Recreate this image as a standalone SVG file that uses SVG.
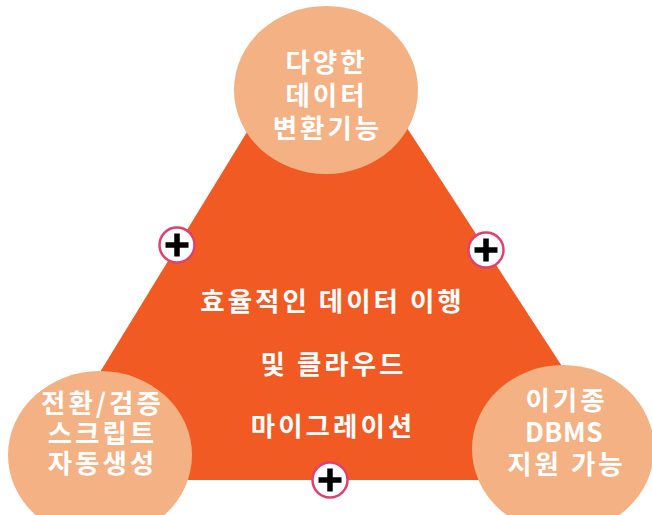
<svg xmlns="http://www.w3.org/2000/svg" width="652" height="515" viewBox="0 0 652 515">
  <style>
    .tri { fill: #F15A22; }
    .bubble { fill: #F4B183; }
    .t { font-family: "Noto Sans CJK KR", "Noto Sans", sans-serif; font-weight: 700; font-size: 26.5px; letter-spacing: 3px; fill: #FFFFFF; text-anchor: middle; }
    .latin { letter-spacing: 0.5px; }
    .plus-bg { fill: #FFFFFF; stroke: #E2406E; stroke-width: 2.5; }
    .plus { stroke: #000000; stroke-width: 5.5; }
  </style>
  <defs>
    <g id="plusIcon">
      <circle class="plus-bg" cx="0" cy="0" r="17.5"/>
      <line class="plus" x1="-11.5" y1="0" x2="11.5" y2="0"/>
      <line class="plus" x1="0" y1="-11.5" x2="0" y2="11.5"/>
    </g>
  </defs>

  <g id="triangle">
    <polygon class="tri" points="321,11 331,11 636,480 34,480"/>
    <text class="t" x="332.5" y="311">효율적인 데이터 이행</text>
    <text class="t" x="333.5" y="374">및 클라우드</text>
    <text class="t" x="333" y="436">마이그레이션</text>
  </g>

  <g id="node-top">
    <ellipse class="bubble" cx="326" cy="90" rx="92" ry="84"/>
    <text class="t" x="326.5" y="72">다양한</text>
    <text class="t" x="326.5" y="105">데이터</text>
    <text class="t" x="327.5" y="138">변환기능</text>
  </g>

  <g id="node-left">
    <ellipse class="bubble" cx="100" cy="455" rx="92" ry="84"/>
    <text class="t" x="102.5" y="413">전환/검증</text>
    <text class="t" x="102.5" y="443">스크립트</text>
    <text class="t" x="102.5" y="473">자동생성</text>
  </g>

  <g id="node-right">
    <ellipse class="bubble" cx="563" cy="449" rx="91" ry="84"/>
    <text class="t" x="566.5" y="410">이기종</text>
    <text class="t latin" x="564" y="442">DBMS</text>
    <text class="t" x="566.5" y="474">지원 가능</text>
  </g>

  <g id="connectors">
    <use href="#plusIcon" x="177" y="245"/>
    <use href="#plusIcon" x="486" y="250"/>
    <use href="#plusIcon" x="330" y="480"/>
  </g>
</svg>
